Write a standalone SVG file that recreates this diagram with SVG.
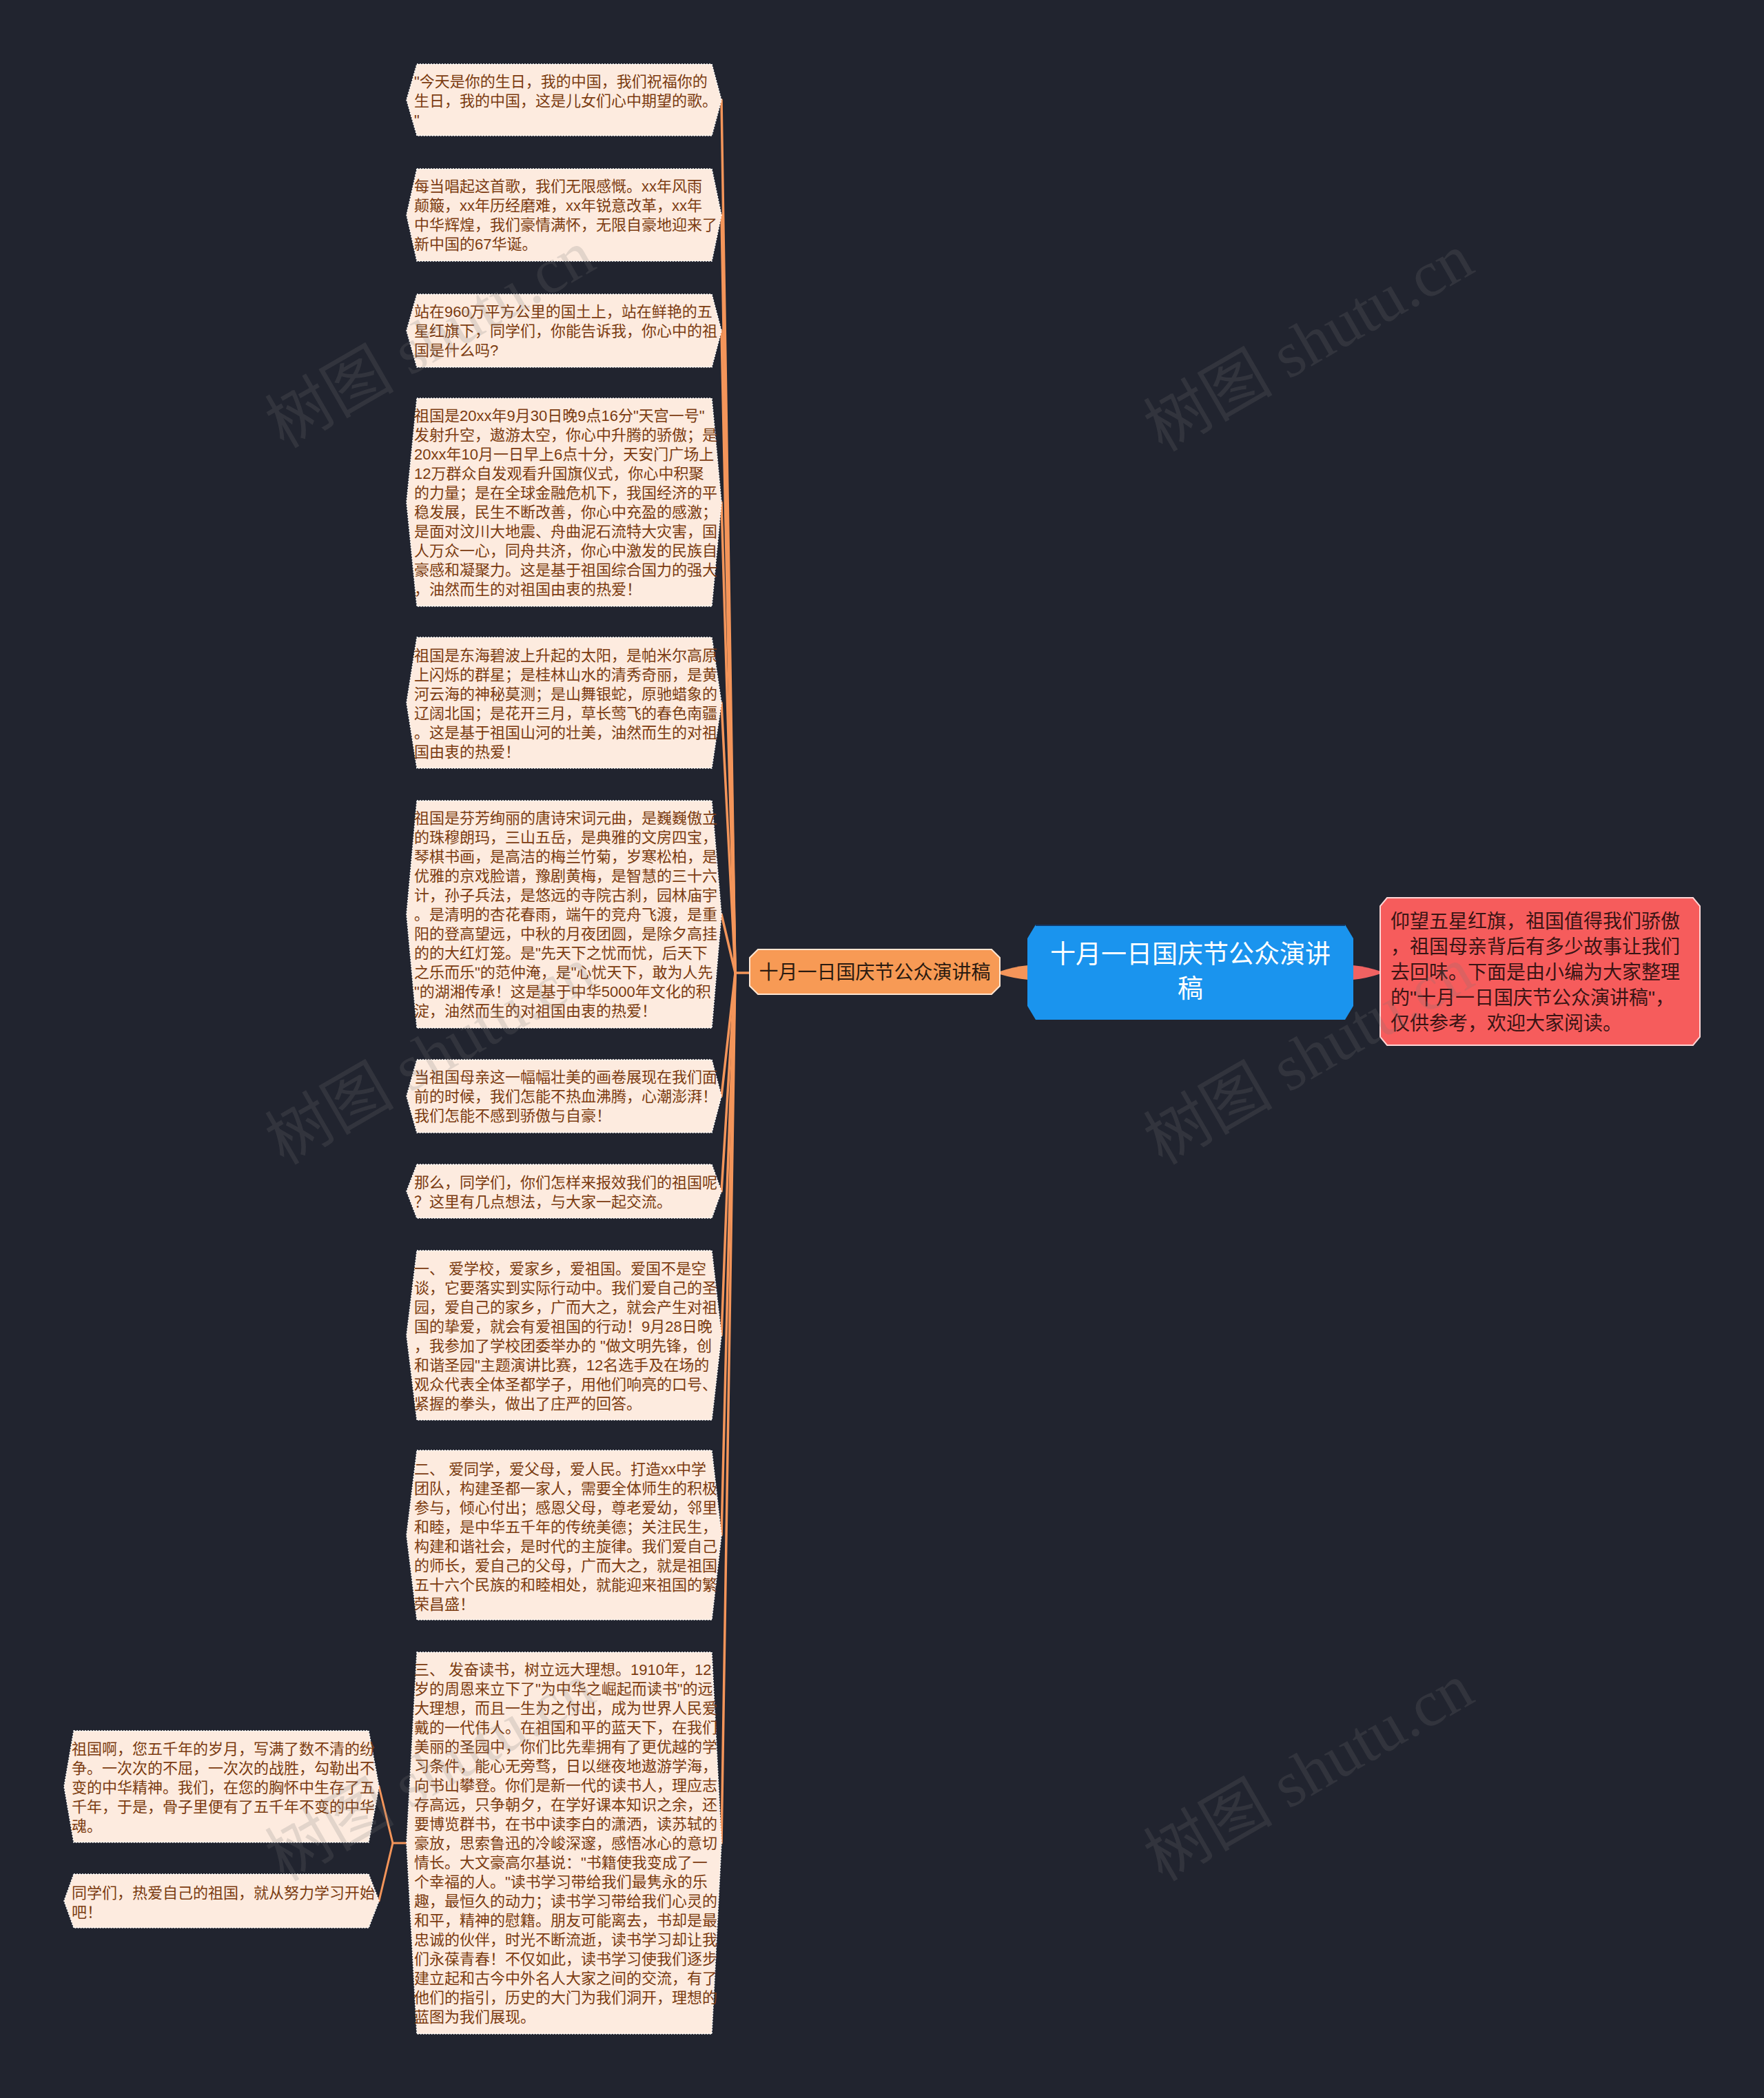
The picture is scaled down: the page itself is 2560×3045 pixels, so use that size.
<svg xmlns="http://www.w3.org/2000/svg" width="2560" height="3045" viewBox="0 0 2560 3045">
<defs>
<style>
.bg{fill:#21242f}
.leaf{fill:#fdebdf;stroke:#ffffff;stroke-width:1.5;stroke-dasharray:2 2}
.lt{font-family:"Liberation Sans","Noto Sans CJK SC",sans-serif;font-size:22px;fill:#7b3b10}
.conn{fill:none;stroke:#f4955a;stroke-width:3.5;stroke-linecap:round;stroke-linejoin:round}
.conn2{fill:none;stroke:#f4955a;stroke-width:3;stroke-linecap:round;stroke-linejoin:round}
.wm{font-family:"Liberation Serif","Noto Sans CJK SC",serif;font-size:94px;fill:#777777;fill-opacity:0.2;text-anchor:middle}
</style>
</defs>
<rect class="bg" x="0" y="0" width="2560" height="3045"/>

<g id="connectors">
<path d="M1451 1410 Q1471 1403 1492 1401 L1492 1422 Q1471 1420 1451 1414 Z" fill="#f4955a"/>
<path d="M1963 1401 Q1984 1403 2004 1410 L2004 1413 Q1984 1420 1963 1422 Z" fill="#f06262"/>
<path class="conn" d="M1088 1412 L1067 1412 L1047 145"/>
<path class="conn" d="M1067 1412 L1047 312"/>
<path class="conn" d="M1067 1412 L1047 480"/>
<path class="conn" d="M1067 1412 L1047 729"/>
<path class="conn" d="M1067 1412 L1047 1020"/>
<path class="conn" d="M1067 1412 L1047 1327"/>
<path class="conn" d="M1067 1412 L1047 1591"/>
<path class="conn" d="M1067 1412 L1047 1729"/>
<path class="conn" d="M1067 1412 L1047 1938"/>
<path class="conn" d="M1067 1412 L1047 2228"/>
<path class="conn" d="M1067 1412 L1047 2675"/>
<path class="conn2" d="M590 2675 L570 2675 L550 2593"/>
<path class="conn2" d="M570 2675 L550 2759"/>
</g>

<g id="root">
<polygon points="1503,1342 1952,1342 1964,1362 1964,1460 1952,1480 1503,1480 1491,1460 1491,1362" fill="#1a94ee"/>
<line x1="1503" y1="1343" x2="1952" y2="1343" stroke="#123a6a" stroke-width="2"/>
<text x="1727.5" y="1398" text-anchor="middle" font-family="Liberation Sans,Noto Sans CJK SC,sans-serif" font-size="37" fill="#ffffff">十月一日国庆节公众演讲</text>
<text x="1727.5" y="1448" text-anchor="middle" font-family="Liberation Sans,Noto Sans CJK SC,sans-serif" font-size="37" fill="#ffffff">稿</text>
</g>

<g id="branch">
<polygon points="1100,1378 1439,1378 1451,1390 1451,1431 1439,1443 1100,1443 1088,1431 1088,1390" fill="#f79a55" stroke="#ffe6d2" stroke-width="2"/>
<text x="1269.5" y="1421" text-anchor="middle" font-family="Liberation Sans,Noto Sans CJK SC,sans-serif" font-size="28" fill="#2a1a10">十月一日国庆节公众演讲稿</text>
</g>

<g id="summary">
<polygon points="2013,1303 2457,1303 2467,1315 2467,1505 2457,1517 2013,1517 2003,1505 2003,1315" fill="#f65c5c" stroke="#ffd6d6" stroke-width="2"/>
<g font-family="Liberation Sans,Noto Sans CJK SC,sans-serif" font-size="28" fill="#3a1414">
<text x="2018" y="1347">仰望五星红旗，祖国值得我们骄傲</text>
<text x="2018" y="1384">，祖国母亲背后有多少故事让我们</text>
<text x="2018" y="1421">去回味。下面是由小编为大家整理</text>
<text x="2018" y="1458">的"十月一日国庆节公众演讲稿"，</text>
<text x="2018" y="1495">仅供参考，欢迎大家阅读。</text>
</g>
</g>

<g id="leaf1">
<polygon class="leaf" points="605,93 1033,93 1047,145 1033,197 605,197 590,145"/>
<text class="lt"><tspan x="601" y="126">"今天是你的生日，我的中国，我们祝福你的</tspan><tspan x="601" y="154">生日，我的中国，这是儿女们心中期望的歌。</tspan><tspan x="601" y="182">"</tspan></text>
</g>

<g id="leaf2">
<polygon class="leaf" points="605,245 1033,245 1047,312 1033,379 605,379 590,312"/>
<text class="lt"><tspan x="601" y="278">每当唱起这首歌，我们无限感慨。xx年风雨</tspan><tspan x="601" y="306">颠簸，xx年历经磨难，xx年锐意改革，xx年</tspan><tspan x="601" y="334">中华辉煌，我们豪情满怀，无限自豪地迎来了</tspan><tspan x="601" y="362">新中国的67华诞。</tspan></text>
</g>

<g id="leaf3">
<polygon class="leaf" points="605,427 1033,427 1047,480 1033,533 605,533 590,480"/>
<text class="lt"><tspan x="601" y="460">站在960万平方公里的国土上，站在鲜艳的五</tspan><tspan x="601" y="488">星红旗下，同学们，你能告诉我，你心中的祖</tspan><tspan x="601" y="516">国是什么吗?</tspan></text>
</g>

<g id="leaf4">
<polygon class="leaf" points="605,578 1033,578 1047,729 1033,880 605,880 590,729"/>
<text class="lt"><tspan x="601" y="611">祖国是20xx年9月30日晚9点16分"天宫一号"</tspan><tspan x="601" y="639">发射升空，遨游太空，你心中升腾的骄傲；是</tspan><tspan x="601" y="667">20xx年10月一日早上6点十分，天安门广场上</tspan><tspan x="601" y="695">12万群众自发观看升国旗仪式，你心中积聚</tspan><tspan x="601" y="723">的力量；是在全球金融危机下，我国经济的平</tspan><tspan x="601" y="751">稳发展，民生不断改善，你心中充盈的感激；</tspan><tspan x="601" y="779">是面对汶川大地震、舟曲泥石流特大灾害，国</tspan><tspan x="601" y="807">人万众一心，同舟共济，你心中激发的民族自</tspan><tspan x="601" y="835">豪感和凝聚力。这是基于祖国综合国力的强大</tspan><tspan x="601" y="863">，油然而生的对祖国由衷的热爱！</tspan></text>
</g>

<g id="leaf5">
<polygon class="leaf" points="605,925 1033,925 1047,1020 1033,1115 605,1115 590,1020"/>
<text class="lt"><tspan x="601" y="959">祖国是东海碧波上升起的太阳，是帕米尔高原</tspan><tspan x="601" y="987">上闪烁的群星；是桂林山水的清秀奇丽，是黄</tspan><tspan x="601" y="1015">河云海的神秘莫测；是山舞银蛇，原驰蜡象的</tspan><tspan x="601" y="1043">辽阔北国；是花开三月，草长莺飞的春色南疆</tspan><tspan x="601" y="1071">。这是基于祖国山河的壮美，油然而生的对祖</tspan><tspan x="601" y="1099">国由衷的热爱！</tspan></text>
</g>

<g id="leaf6">
<polygon class="leaf" points="605,1162 1033,1162 1047,1327 1033,1492 605,1492 590,1327"/>
<text class="lt"><tspan x="601" y="1195">祖国是芬芳绚丽的唐诗宋词元曲，是巍巍傲立</tspan><tspan x="601" y="1223">的珠穆朗玛，三山五岳，是典雅的文房四宝，</tspan><tspan x="601" y="1251">琴棋书画，是高洁的梅兰竹菊，岁寒松柏，是</tspan><tspan x="601" y="1279">优雅的京戏脸谱，豫剧黄梅，是智慧的三十六</tspan><tspan x="601" y="1307">计，孙子兵法，是悠远的寺院古刹，园林庙宇</tspan><tspan x="601" y="1335">。是清明的杏花春雨，端午的竞舟飞渡，是重</tspan><tspan x="601" y="1363">阳的登高望远，中秋的月夜团圆，是除夕高挂</tspan><tspan x="601" y="1391">的的大红灯笼。是"先天下之忧而忧，后天下</tspan><tspan x="601" y="1419">之乐而乐"的范仲淹，是"心忧天下，敢为人先</tspan><tspan x="601" y="1447">"的湖湘传承！这是基于中华5000年文化的积</tspan><tspan x="601" y="1475">淀，油然而生的对祖国由衷的热爱！</tspan></text>
</g>

<g id="leaf7">
<polygon class="leaf" points="605,1538 1033,1538 1047,1591 1033,1644 605,1644 590,1591"/>
<text class="lt"><tspan x="601" y="1571">当祖国母亲这一幅幅壮美的画卷展现在我们面</tspan><tspan x="601" y="1599">前的时候，我们怎能不热血沸腾，心潮澎湃！</tspan><tspan x="601" y="1627">我们怎能不感到骄傲与自豪！</tspan></text>
</g>

<g id="leaf8">
<polygon class="leaf" points="605,1690 1033,1690 1047,1729 1033,1768 605,1768 590,1729"/>
<text class="lt"><tspan x="601" y="1724">那么，同学们，你们怎样来报效我们的祖国呢</tspan><tspan x="601" y="1752">？这里有几点想法，与大家一起交流。</tspan></text>
</g>

<g id="leaf9">
<polygon class="leaf" points="605,1815 1033,1815 1047,1938 1033,2061 605,2061 590,1938"/>
<text class="lt"><tspan x="601" y="1849">一、 爱学校，爱家乡，爱祖国。爱国不是空</tspan><tspan x="601" y="1877">谈，它要落实到实际行动中。我们爱自己的圣</tspan><tspan x="601" y="1905">园，爱自己的家乡，广而大之，就会产生对祖</tspan><tspan x="601" y="1933">国的挚爱，就会有爱祖国的行动！9月28日晚</tspan><tspan x="601" y="1961">，我参加了学校团委举办的 "做文明先锋，创</tspan><tspan x="601" y="1989">和谐圣园"主题演讲比赛，12名选手及在场的</tspan><tspan x="601" y="2017">观众代表全体圣都学子，用他们响亮的口号、</tspan><tspan x="601" y="2045">紧握的拳头，做出了庄严的回答。</tspan></text>
</g>

<g id="leaf10">
<polygon class="leaf" points="605,2105 1033,2105 1047,2228 1033,2351 605,2351 590,2228"/>
<text class="lt"><tspan x="601" y="2140">二、 爱同学，爱父母，爱人民。打造xx中学</tspan><tspan x="601" y="2168">团队，构建圣都一家人，需要全体师生的积极</tspan><tspan x="601" y="2196">参与，倾心付出；感恩父母，尊老爱幼，邻里</tspan><tspan x="601" y="2224">和睦，是中华五千年的传统美德；关注民生，</tspan><tspan x="601" y="2252">构建和谐社会，是时代的主旋律。我们爱自己</tspan><tspan x="601" y="2280">的师长，爱自己的父母，广而大之，就是祖国</tspan><tspan x="601" y="2308">五十六个民族的和睦相处，就能迎来祖国的繁</tspan><tspan x="601" y="2336">荣昌盛！</tspan></text>
</g>

<g id="leaf11">
<polygon class="leaf" points="605,2398 1033,2398 1047,2675 1033,2952 605,2952 590,2675"/>
<text class="lt"><tspan x="601" y="2431">三、 发奋读书，树立远大理想。1910年，12</tspan><tspan x="601" y="2459">岁的周恩来立下了"为中华之崛起而读书"的远</tspan><tspan x="601" y="2487">大理想，而且一生为之付出，成为世界人民爱</tspan><tspan x="601" y="2515">戴的一代伟人。在祖国和平的蓝天下，在我们</tspan><tspan x="601" y="2543">美丽的圣园中，你们比先辈拥有了更优越的学</tspan><tspan x="601" y="2571">习条件，能心无旁骛，日以继夜地遨游学海，</tspan><tspan x="601" y="2599">向书山攀登。你们是新一代的读书人，理应志</tspan><tspan x="601" y="2627">存高远，只争朝夕，在学好课本知识之余，还</tspan><tspan x="601" y="2655">要博览群书，在书中读李白的潇洒，读苏轼的</tspan><tspan x="601" y="2683">豪放，思索鲁迅的冷峻深邃，感悟冰心的意切</tspan><tspan x="601" y="2711">情长。大文豪高尔基说："书籍使我变成了一</tspan><tspan x="601" y="2739">个幸福的人。"读书学习带给我们最隽永的乐</tspan><tspan x="601" y="2767">趣，最恒久的动力；读书学习带给我们心灵的</tspan><tspan x="601" y="2795">和平，精神的慰籍。朋友可能离去，书却是最</tspan><tspan x="601" y="2823">忠诚的伙伴，时光不断流逝，读书学习却让我</tspan><tspan x="601" y="2851">们永葆青春！不仅如此，读书学习使我们逐步</tspan><tspan x="601" y="2879">建立起和古今中外名人大家之间的交流，有了</tspan><tspan x="601" y="2907">他们的指引，历史的大门为我们洞开，理想的</tspan><tspan x="601" y="2935">蓝图为我们展现。</tspan></text>
</g>

<g id="leaf12">
<polygon class="leaf" points="107,2512 535,2512 550,2593 535,2674 107,2674 93,2593"/>
<text class="lt"><tspan x="104" y="2546">祖国啊，您五千年的岁月，写满了数不清的纷</tspan><tspan x="104" y="2574">争。一次次的不屈，一次次的战胜，勾勒出不</tspan><tspan x="104" y="2602">变的中华精神。我们，在您的胸怀中生存了五</tspan><tspan x="104" y="2630">千年，于是，骨子里便有了五千年不变的中华</tspan><tspan x="104" y="2658">魂。</tspan></text>
</g>

<g id="leaf13">
<polygon class="leaf" points="107,2720 535,2720 550,2759 535,2798 107,2798 93,2759"/>
<text class="lt"><tspan x="104" y="2755">同学们，热爱自己的祖国，就从努力学习开始</tspan><tspan x="104" y="2783">吧！</tspan></text>
</g>

<g id="watermark">
<text class="wm" transform="translate(640,520) rotate(-30)">树图 shutu.cn</text>
<text class="wm" transform="translate(1915,525) rotate(-30)">树图 shutu.cn</text>
<text class="wm" transform="translate(640,1560) rotate(-30)">树图 shutu.cn</text>
<text class="wm" transform="translate(1915,1560) rotate(-30)">树图 shutu.cn</text>
<text class="wm" transform="translate(640,2600) rotate(-30)">树图 shutu.cn</text>
<text class="wm" transform="translate(1915,2600) rotate(-30)">树图 shutu.cn</text>
</g>
</svg>
